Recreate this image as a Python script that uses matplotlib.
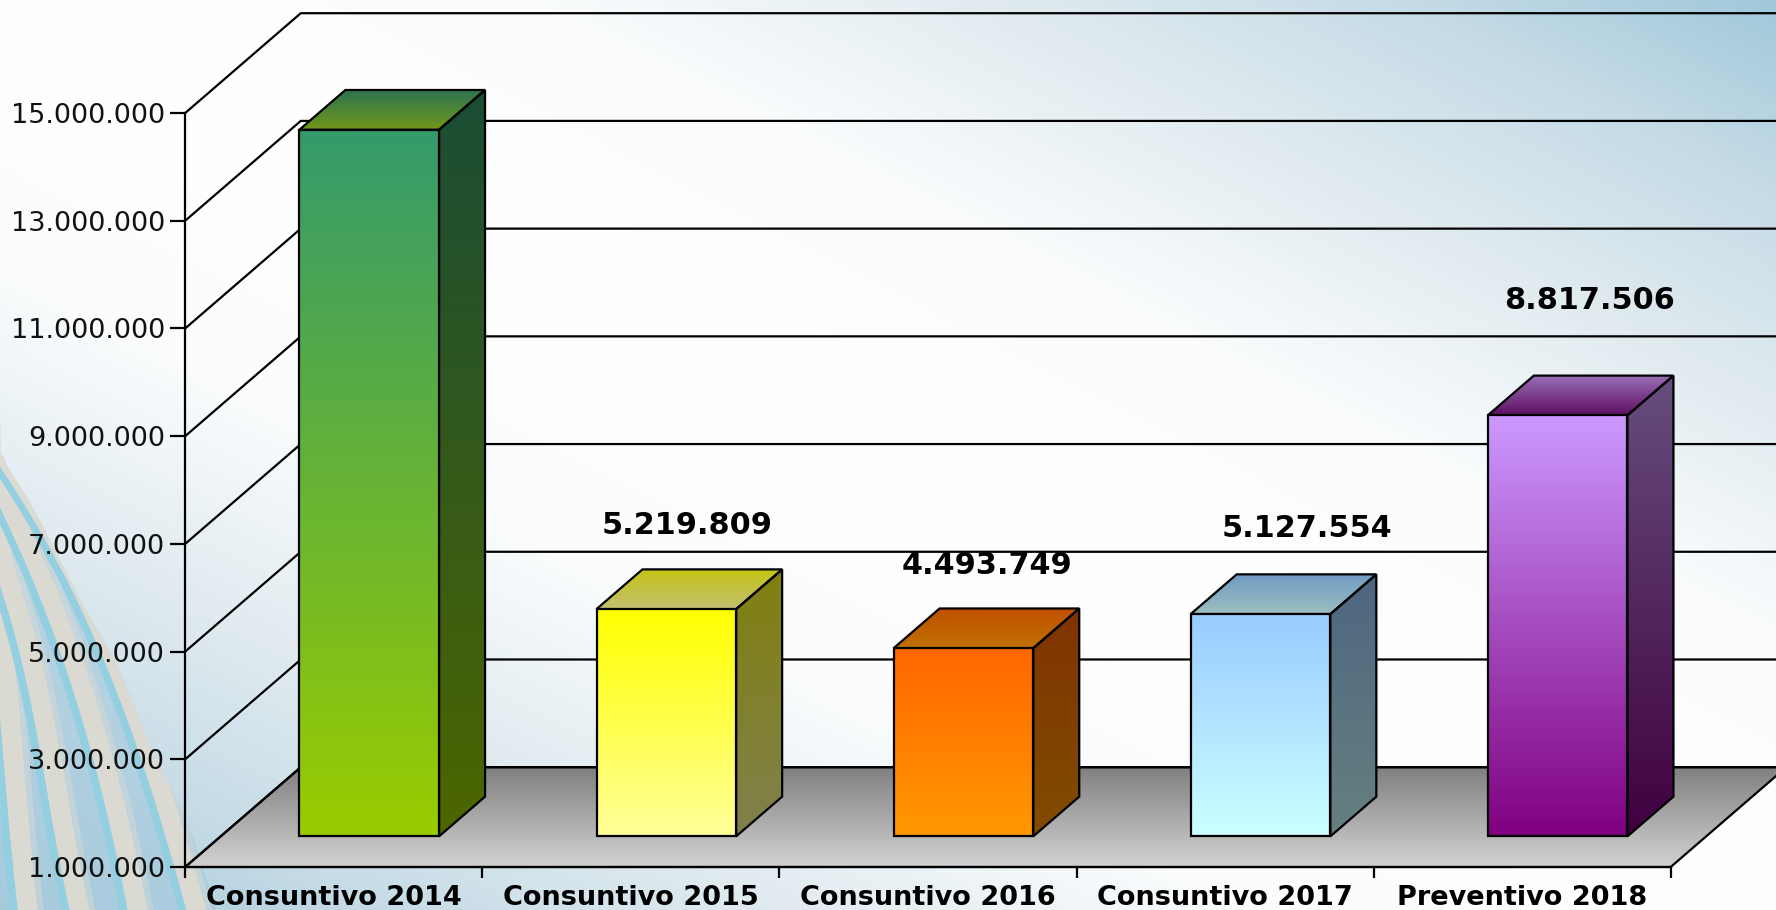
import numpy as np
import matplotlib
matplotlib.use("Agg")
import matplotlib.pyplot as plt
from matplotlib.colors import to_rgb
from matplotlib.patches import Polygon

# data
categories = ["Consuntivo 2014", "Consuntivo 2015", "Consuntivo 2016", "Consuntivo 2017", "Preventivo 2018"]
values = [14120781, 5219809, 4493749, 5127554, 8817506]
yticks = [1000000, 3000000, 5000000, 7000000, 9000000, 11000000, 13000000, 15000000]

# colours of each bar: front top/bottom, side top/bottom, lid back/front
front_top = ["#349a6b", "#ffff00", "#ff6600", "#99ccff", "#cc99ff"]
front_bot = ["#99cc00", "#ffff99", "#ff9900", "#ccffff", "#800080"]
side_top = ["#1a4d35", "#808010", "#803300", "#4d6680", "#664d80"]
side_bot = ["#4d6600", "#80804d", "#804d00", "#668080", "#400040"]
lid_back = ["#2d7350", "#c4c414", "#c05000", "#7099c4", "#9b70b8"]
lid_front = ["#72981a", "#c2bf70", "#c07000", "#9cc0c0", "#5f0f63"]

# value label offsets from the back top centre of each bar, in pixels
label_dx = [-13, -25, -22, 0, -14]
label_dy = [29, 44, 43, 46, 75]

# 3d look
DX = 0.389       # depth of the box in category units
DY = 1.853e6     # depth of the box in value units
BAR_D0 = 0.307
BAR_D1 = 0.705
BAR_LEFT = 0.265
BAR_W = 0.47
BASE = 1000000
LW = 1.6

W, H = 1776, 910
fig = plt.figure(figsize=(W / 100, H / 100), dpi=100)
plt.rcParams['font.family'] = ['DejaVu Sans']

# background
bg = fig.add_axes([0, 0, 1, 1], zorder=0)
yy, xx = np.mgrid[0:H, 0:W]
u = np.abs(xx / W - yy / H)
stops = [0, 0.3, 0.57, 0.79, 1.0]
cols = np.array([to_rgb(c) for c in ["#ffffff", "#fafcfd", "#dfeaef", "#c5dbe6", "#a0c8da"]])
img = np.dstack([np.interp(u, stops, cols[:, k]) for k in range(3)])
bg.imshow(img, extent=[0, W, H, 0], aspect="auto", interpolation="bilinear")

def curve(pts):
    p = np.array(pts, dtype=float)
    fit = np.polyfit(p[:, 1], p[:, 0], 3)
    slope = (p[1, 0] - p[0, 0]) / (p[1, 1] - p[0, 1])
    ys = np.linspace(p[0, 1] - 110 / slope, 1440, 400)
    xs = np.where(ys < p[0, 1], p[0, 0] + slope * (ys - p[0, 1]), np.polyval(fit, ys))
    return ys, xs

def fill_crop(ys, xa, xb, color, alpha=1.0):
    bg.fill_betweenx(ys / 3 + 430, xa / 3, xb / 3, color=color, alpha=alpha, lw=0)

beige = "#dddbd3"
blue = "#93cfe0"
outer = [(0, 75), (100, 235), (250, 530), (350, 700), (450, 950), (560, 1170), (630, 1380), (650, 1440)]
stripes = [
    [(0, 130), (100, 290), (200, 470), (300, 700), (400, 960), (480, 1200), (545, 1440)],
    [(0, 260), (80, 440), (180, 700), (270, 1000), (330, 1250), (370, 1440)],
    [(0, 510), (60, 720), (110, 1000), (160, 1250), (195, 1440)],
    [(0, 1020), (20, 1250), (40, 1440)],
]
oy = np.linspace(75, 1440, 300)
ox = np.interp(oy, [p[1] for p in outer], [p[0] for p in outer])
ox = np.convolve(np.pad(ox, 10, mode="edge"), np.ones(21) / 21, mode="valid")
fill_crop(oy, np.zeros_like(ox), ox, "#a8cbde", 0.7)
for pts in stripes:
    ys, xs = curve(pts)
    edge = np.interp(ys, oy, ox, left=0)
    fill_crop(ys, np.minimum(xs + 10, edge), np.minimum(xs + 72, edge), beige, 0.95)
    fill_crop(ys, np.minimum(xs + 72, edge), np.minimum(xs + 90, edge), beige, 0.45)
for pts in stripes:
    ys, xs = curve(pts)
    fill_crop(ys, xs - 12, xs + 12, blue)
bg.set_xlim(0, W)
bg.set_ylim(H, 0)
bg.axis("off")

# main axes, its box is the front plane of the chart
x0, x1, y_low, y_high = 185.2, 1670.7, 867.0, 113.0
ax = fig.add_axes([x0 / W, 1 - y_low / H, (x1 - x0) / W, (y_low - y_high) / H], zorder=1)
ax.patch.set_visible(False)

def shade(verts, c1, c2, z):
    # vertical gradient (c1 on top) clipped to a polygon with a black edge
    v = np.array(verts)
    ramp = np.linspace(0, 1, 128)[:, None]
    c1, c2 = np.array(to_rgb(c1)), np.array(to_rgb(c2))
    im = ax.imshow((c1 + (c2 - c1) * ramp)[:, None, :], aspect="auto", zorder=z,
                   extent=[v[:, 0].min(), v[:, 0].max(), v[:, 1].min(), v[:, 1].max()],
                   interpolation="bilinear")
    poly = Polygon(v, closed=True, fc="none", ec="black", lw=LW, zorder=z + 0.1, clip_on=False, joinstyle="miter")
    ax.add_patch(poly)
    im.set_clip_box(fig.bbox)
    im.set_clip_path(poly)

# floor
n = len(categories)
shade([(0, BASE), (n, BASE), (n + DX, BASE + DY), (DX, BASE + DY)], "#808080", "#d2d2d2", 1)

# walls grid
for t in yticks:
    ax.plot([0, DX, n + DX], [t, t + DY, t + DY], color="black", lw=LW, zorder=2, clip_on=False)

# bars
for i, v in enumerate(values):
    l = i + BAR_LEFT
    r = l + BAR_W
    ddx = (BAR_D1 - BAR_D0) * DX
    ddy = (BAR_D1 - BAR_D0) * DY
    b = BASE + BAR_D0 * DY
    t = v + BAR_D0 * DY
    l2, r2 = l + BAR_D0 * DX, r + BAR_D0 * DX
    shade([(r2, b), (r2 + ddx, b + ddy), (r2 + ddx, t + ddy), (r2, t)], side_top[i], side_bot[i], 3)
    shade([(l2, t), (r2, t), (r2 + ddx, t + ddy), (l2 + ddx, t + ddy)], lid_back[i], lid_front[i], 3)
    shade([(l2, b), (r2, b), (r2, t), (l2, t)], front_top[i], front_bot[i], 4)
    label = f"{v:,}".replace(",", ".")
    ax.annotate(label, xy=((l2 + r2) / 2 + ddx, t + ddy),
                xytext=(label_dx[i] * 0.72, label_dy[i] * 0.72), textcoords="offset points",
                ha="center", va="center", fontsize=21.8, fontweight="bold", color="black", zorder=6)

ax.set_xlim(0, n)
ax.set_ylim(yticks[0], yticks[-1])
ax.set_yticks(yticks)
ax.set_yticklabels([f"{t:,}".replace(",", ".") for t in yticks], fontsize=19.5, color="#111111")
ax.set_xticks(range(n + 1))
ax.set_xticklabels([])
ax.set_xticks(np.arange(n) + 0.5, categories, minor=True, fontsize=19.5, fontweight="bold", color="black")
ax.tick_params(axis="y", length=10.5, width=LW, pad=4)
ax.tick_params(axis="x", which="major", length=8, width=LW)
ax.tick_params(axis="x", which="minor", length=0, pad=13)
for s in ("top", "right"):
    ax.spines[s].set_visible(False)
for s in ("left", "bottom"):
    ax.spines[s].set_linewidth(LW)
    ax.spines[s].set_zorder(5)

fig.savefig("out.png", dpi=100)
